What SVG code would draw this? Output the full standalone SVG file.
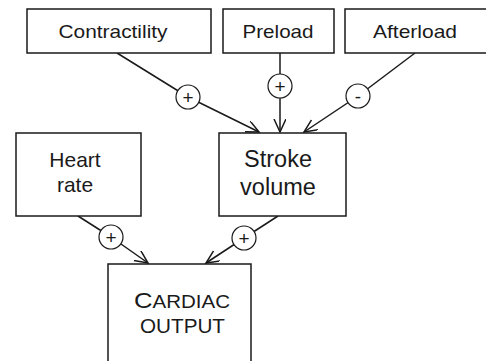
<svg xmlns="http://www.w3.org/2000/svg" width="486" height="361" viewBox="0 0 486 361">
<style>
.box{fill:#fff;stroke:#1a1a1a;stroke-width:1.5}
.t{font-family:"Liberation Sans",Arial,sans-serif;fill:#1a1a1a;text-anchor:middle}
.ln{fill:none;stroke:#1a1a1a;stroke-width:1.5}
.arr{fill:none;stroke:#1a1a1a;stroke-width:1.5;marker-end:url(#ah)}
.sg{fill:#fff;stroke:#1a1a1a;stroke-width:1.2}
.st{font-family:"Liberation Sans",Arial,sans-serif;fill:#1a1a1a;text-anchor:middle;font-size:19px}
</style>
<defs>
<marker id="ah" markerWidth="16" markerHeight="14" refX="13" refY="6" orient="auto" markerUnits="userSpaceOnUse">
<path d="M0,0 L13,6 L0,12" fill="none" stroke="#1a1a1a" stroke-width="1.5"/>
</marker>
</defs>
<rect width="486" height="361" fill="#fff"/>
<g id="connectors">
<line class="ln" x1="117" y1="53" x2="188" y2="97"/>
<line class="arr" x1="188" y1="97" x2="259" y2="132"/>
<line class="ln" x1="280" y1="53" x2="280" y2="86"/>
<line class="arr" x1="280" y1="86" x2="280" y2="132"/>
<line class="ln" x1="415" y1="53" x2="358" y2="96"/>
<line class="arr" x1="358" y1="96" x2="304" y2="132"/>
<line class="ln" x1="78" y1="216" x2="111" y2="237"/>
<line class="arr" x1="111" y1="237" x2="148" y2="263"/>
<line class="ln" x1="278" y1="216" x2="244" y2="238"/>
<line class="arr" x1="244" y1="238" x2="206" y2="263"/>
<g id="sign-contractility"><circle class="sg" cx="188" cy="97" r="12"/><text class="st" x="188" y="104">+</text></g>
<g id="sign-preload"><circle class="sg" cx="280" cy="86" r="12"/><text class="st" x="280" y="93">+</text></g>
<g id="sign-afterload"><circle class="sg" cx="358" cy="96" r="12"/><text class="st" x="358" y="103">-</text></g>
<g id="sign-heartrate"><circle class="sg" cx="111" cy="237" r="12"/><text class="st" x="111" y="244">+</text></g>
<g id="sign-strokevolume"><circle class="sg" cx="244" cy="238" r="12"/><text class="st" x="244" y="245">+</text></g>
</g>
<g id="contractility"><rect class="box" x="27" y="9" width="184" height="44"/><text class="t" x="113" y="38" font-size="18.5" textLength="109" lengthAdjust="spacingAndGlyphs">Contractility</text></g>
<g id="preload"><rect class="box" x="223" y="9" width="111" height="44"/><text class="t" x="278" y="38" font-size="18.5" textLength="71" lengthAdjust="spacingAndGlyphs">Preload</text></g>
<g id="afterload"><rect class="box" x="345" y="9" width="145" height="44"/><text class="t" x="415" y="38" font-size="18.5" textLength="84" lengthAdjust="spacingAndGlyphs">Afterload</text></g>
<g id="heartrate"><rect class="box" x="16" y="133" width="125" height="83"/><text class="t" x="75" y="167" font-size="21">Heart</text><text class="t" x="75" y="192" font-size="21">rate</text></g>
<g id="strokevolume"><rect class="box" x="219" y="133" width="127" height="83"/><text class="t" x="278" y="167" font-size="23.5">Stroke</text><text class="t" x="278" y="195" font-size="23.5">volume</text></g>
<g id="cardiacoutput"><rect class="box" x="108" y="264" width="143" height="110"/><text class="t" x="182" y="308" font-size="18" textLength="96" lengthAdjust="spacingAndGlyphs"><tspan font-size="22.5">C</tspan>ARDIAC</text><text class="t" x="182.5" y="333" font-size="20" textLength="85" lengthAdjust="spacingAndGlyphs">OUTPUT</text></g>
</svg>
